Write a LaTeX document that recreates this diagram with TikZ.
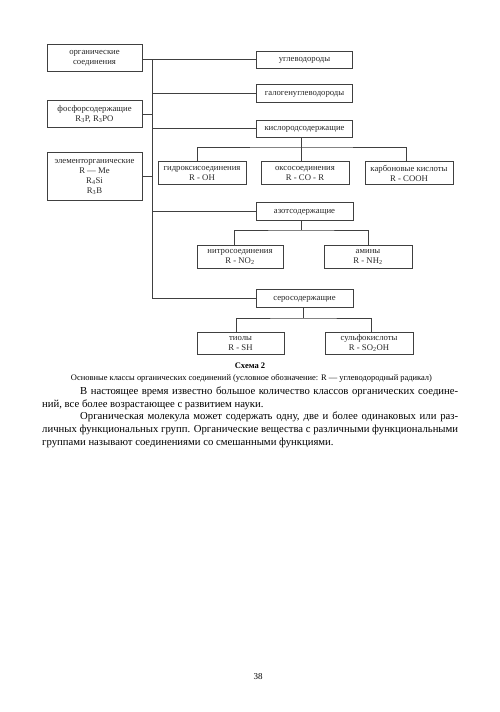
\documentclass[tikz,border=0pt]{standalone}
\usepackage{fontspec}
\setmainfont{Liberation Serif}
\begin{document}
\begin{tikzpicture}[x=1pt,y=-1pt,
  cbox/.style={draw=black!75,line width=0.6pt,inner sep=0pt,align=center,
    font=\fontsize{8.7}{10}\selectfont,text=black!85},
  sbox/.style={draw=black!75,line width=0.6pt,inner sep=0pt,
    text height=5.6pt,text depth=1.4pt,
    font=\fontsize{8.7}{10}\selectfont,text=black!85},
  conn/.style={draw=black!75,line width=0.6pt}]
\useasboundingbox (0,0) rectangle (500,712);
% left column
\node[cbox,minimum width=95pt,minimum height=27pt] (org) at (94.5,58) {органические\\соединения};
\node[cbox,minimum width=95pt,minimum height=27pt] (fos) at (94.5,114) {фосфорсодержащие\\R\textsubscript{3}P, R\textsubscript{3}PO};
\node[cbox,minimum width=95pt,minimum height=48pt] (elem) at (94.5,176.5) {элементорганические\\R — Me\\R\textsubscript{4}Si\\R\textsubscript{3}B};
% right column
\node[sbox,minimum width=96pt,minimum height=17pt] (ugl) at (304.5,59.5) {углеводороды};
\node[sbox,minimum width=96pt,minimum height=18pt] (gal) at (304.5,93) {галогенуглеводороды};
\node[sbox,minimum width=96pt,minimum height=17pt] (kis) at (304.5,128.5) {кислородсодержащие};
\node[cbox,minimum width=88pt,minimum height=23pt] (hyd) at (202,173) {гидроксисоединения\\R - OH};
\node[cbox,minimum width=88pt,minimum height=23pt] (oxo) at (305,173) {оксосоединения\\R - CO - R};
\node[cbox,minimum width=88pt,minimum height=23pt] (carb) at (409,173) {карбоновые кислоты\\R - COOH};
\node[sbox,minimum width=97pt,minimum height=18pt] (azot) at (304.5,211) {азотсодержащие};
\node[cbox,minimum width=86pt,minimum height=23pt] (nitro) at (240,256.5) {нитросоединения\\R - NO\textsubscript{2}};
\node[cbox,minimum width=88pt,minimum height=23pt] (amin) at (368,256.5) {амины\\R - NH\textsubscript{2}};
\node[sbox,minimum width=97pt,minimum height=18pt] (sero) at (304.5,298) {серосодержащие};
\node[cbox,minimum width=87pt,minimum height=22pt] (thiol) at (240.5,343) {тиолы\\R - SH};
\node[cbox,minimum width=88pt,minimum height=22pt] (sulfo) at (369,343) {сульфокислоты\\R - SO\textsubscript{2}OH};
% trunk
\coordinate (ttop) at (152,59.5);
\coordinate (tbot) at (152,298);
\draw[conn] (ttop) -- (tbot);
\draw[conn] (org.east |- ugl.west) -- (ugl.west);
\draw[conn] (gal.west) -- (gal.west -| ttop);
\draw[conn] (kis.west) -- (kis.west -| ttop);
\draw[conn] (azot.west) -- (azot.west -| ttop);
\draw[conn] (sero.west) -- (sero.west -| ttop);
\draw[conn] (fos.east) -- (fos.east -| ttop);
\draw[conn] (elem.east) -- (elem.east -| ttop);
% oxygen branch
\coordinate (kb) at (301,147);
\draw[conn] ([xshift=-3.5pt]kis.south) -- (kb);
\draw[conn] ([xshift=-5pt]hyd.north) |- (kb) -| ([xshift=-3pt]carb.north);
\draw[conn] ([xshift=-4pt]oxo.north) -- ([xshift=-4pt]oxo.north |- kb);
% nitrogen branch
\coordinate (ab) at (301,230);
\draw[conn] ([xshift=-3.5pt]azot.south) -- (ab);
\draw[conn] ([xshift=-6pt]nitro.north) |- (ab) -| (amin.north);
% sulfur branch
\coordinate (sb) at (303,318);
\draw[conn] ([xshift=-1.5pt]sero.south) -- (sb);
\draw[conn] ([xshift=-4.5pt]thiol.north) |- (sb) -| ([xshift=2pt]sulfo.north);
% captions
\node[font=\fontsize{8.5}{10}\selectfont\bfseries,inner sep=0pt] (title) at (250,365.5) {Схема 2};
\node[font=\fontsize{8.45}{10}\selectfont,inner sep=0pt] (cap) at (251.5,378) {Основные классы органических соединений (условное обозначение: R — углеводородный радикал)};
\node[anchor=north west,inner sep=0pt,align=left,font=\fontsize{10.7}{12.8}\selectfont] (body) at (42,386.5) {%
\hspace*{38pt}\makebox[378pt][s]{В настоящее время известно большое количество классов органических соедине-}\\
ний, все более возрастающее с развитием науки.\\
\hspace*{38pt}\makebox[378pt][s]{Органическая молекула может содержать одну, две и более одинаковых или раз-}\\
\makebox[416pt][s]{личных функциональных групп. Органические вещества с различными функциональными}\\
группами называют соединениями со смешанными функциями.};
\node[font=\fontsize{9}{10}\selectfont,inner sep=0pt] (page) at (258,677) {38};
\end{tikzpicture}
\end{document}
